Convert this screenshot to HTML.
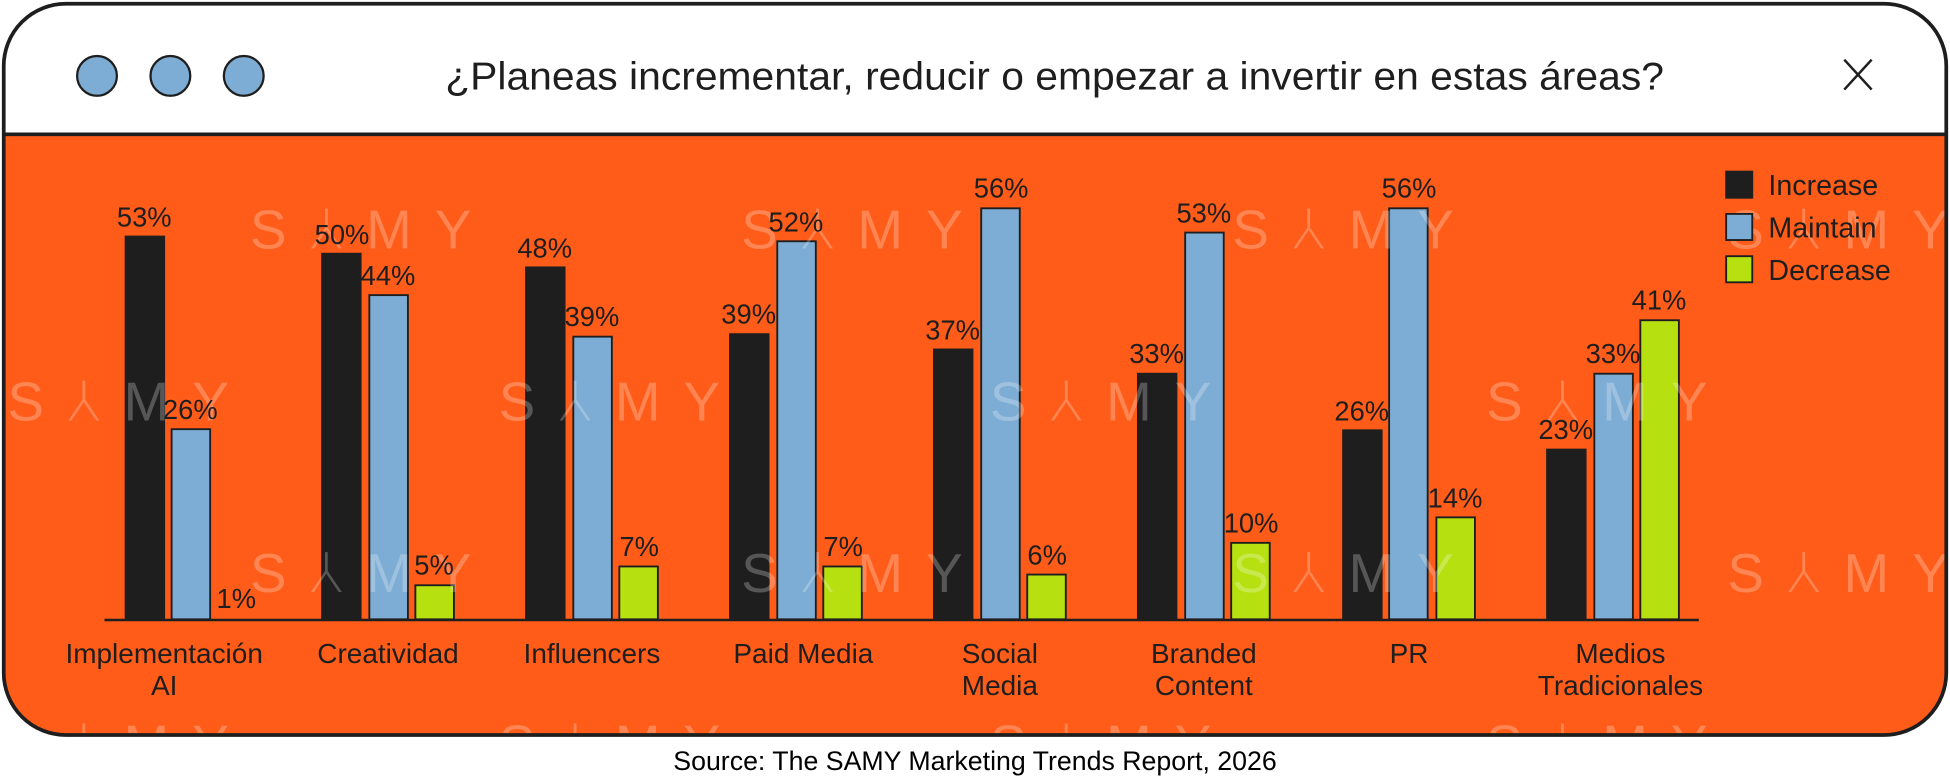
<!DOCTYPE html>
<html><head><meta charset="utf-8"><style>
html,body{margin:0;padding:0;background:#fff;}
svg{display:block;}
text{font-family:"Liberation Sans","DejaVu Sans",sans-serif;}
</style></head><body>
<svg width="1950" height="781" viewBox="0 0 1568 628" xmlns="http://www.w3.org/2000/svg">
<defs>
<clipPath id="fr"><rect x="3" y="3" width="1562" height="588" rx="50" ry="50"/></clipPath>
</defs>
<rect x="0" y="0" width="1568" height="628" fill="#fff"/>
<g clip-path="url(#fr)">
<rect x="0" y="0" width="1568" height="108" fill="#fff"/>
<rect x="0" y="108" width="1568" height="500" fill="#ff5c19"/>
</g>
<line x1="3" y1="108" x2="1565" y2="108" stroke="#1e1e1e" stroke-width="3"/>
<g fill="#7dadd4" stroke="#1e1e1e" stroke-width="1.8">
<circle cx="78" cy="61" r="16"/><circle cx="137" cy="61" r="16"/><circle cx="196" cy="61" r="16"/>
</g>
<text x="848" y="72" font-size="31" text-anchor="middle" fill="#1e1e1e" textLength="980" lengthAdjust="spacingAndGlyphs">¿Planeas incrementar, reducir o empezar a invertir en estas áreas?</text>
<g stroke="#1e1e1e" stroke-width="2"><line x1="1483" y1="48" x2="1505" y2="72"/><line x1="1505" y1="48" x2="1483" y2="72"/></g>

<g stroke="#1e1e1e" stroke-width="1.5">
<rect x="101" y="190.2" width="31" height="307.8" fill="#1e1e1e"/>
<rect x="138" y="345.1" width="31" height="152.9" fill="#7dadd4"/>
<rect x="259" y="204" width="31" height="294" fill="#1e1e1e"/>
<rect x="297" y="237.3" width="31" height="260.7" fill="#7dadd4"/>
<rect x="334" y="470.6" width="31" height="27.4" fill="#b7e010"/>
<rect x="423" y="215" width="31" height="283" fill="#1e1e1e"/>
<rect x="461" y="270.7" width="31" height="227.3" fill="#7dadd4"/>
<rect x="498" y="455.5" width="31" height="42.5" fill="#b7e010"/>
<rect x="587" y="268.7" width="31" height="229.3" fill="#1e1e1e"/>
<rect x="625" y="194" width="31" height="304" fill="#7dadd4"/>
<rect x="662" y="455.5" width="31" height="42.5" fill="#b7e010"/>
<rect x="751" y="281" width="31" height="217" fill="#1e1e1e"/>
<rect x="789" y="167.5" width="31" height="330.5" fill="#7dadd4"/>
<rect x="826" y="462" width="31" height="36" fill="#b7e010"/>
<rect x="915" y="300.5" width="31" height="197.5" fill="#1e1e1e"/>
<rect x="953" y="187" width="31" height="311" fill="#7dadd4"/>
<rect x="990" y="436.5" width="31" height="61.5" fill="#b7e010"/>
<rect x="1080" y="346" width="31" height="152" fill="#1e1e1e"/>
<rect x="1117" y="167.5" width="31" height="330.5" fill="#7dadd4"/>
<rect x="1155" y="416" width="31" height="82" fill="#b7e010"/>
<rect x="1244" y="361.5" width="31" height="136.5" fill="#1e1e1e"/>
<rect x="1282" y="300.5" width="31" height="197.5" fill="#7dadd4"/>
<rect x="1319" y="257.5" width="31" height="240.5" fill="#b7e010"/>
</g>
<line x1="84" y1="498.5" x2="1366" y2="498.5" stroke="#1e1e1e" stroke-width="2"/>

<g fill="#ffffff" fill-opacity="0.25" font-size="44" font-family="'DejaVu Sans','Liberation Sans',sans-serif" font-weight="200">
<text x="201" y="200" textLength="178" lengthAdjust="spacing">S⅄MY</text>
<text x="596" y="200" textLength="178" lengthAdjust="spacing">S⅄MY</text>
<text x="991" y="200" textLength="178" lengthAdjust="spacing">S⅄MY</text>
<text x="1389" y="200" textLength="178" lengthAdjust="spacing">S⅄MY</text>
<text x="6" y="338" textLength="178" lengthAdjust="spacing">S⅄MY</text>
<text x="401" y="338" textLength="178" lengthAdjust="spacing">S⅄MY</text>
<text x="796" y="338" textLength="178" lengthAdjust="spacing">S⅄MY</text>
<text x="1195" y="338" textLength="178" lengthAdjust="spacing">S⅄MY</text>
<text x="201" y="476" textLength="178" lengthAdjust="spacing">S⅄MY</text>
<text x="596" y="476" textLength="178" lengthAdjust="spacing">S⅄MY</text>
<text x="991" y="476" textLength="178" lengthAdjust="spacing">S⅄MY</text>
<text x="1389" y="476" textLength="178" lengthAdjust="spacing">S⅄MY</text>
<g clip-path="url(#fr)">
<text x="6" y="614" textLength="178" lengthAdjust="spacing">S⅄MY</text>
<text x="401" y="614" textLength="178" lengthAdjust="spacing">S⅄MY</text>
<text x="796" y="614" textLength="178" lengthAdjust="spacing">S⅄MY</text>
<text x="1195" y="614" textLength="178" lengthAdjust="spacing">S⅄MY</text>
</g>
</g>
<rect x="3" y="3" width="1562" height="588" rx="50" ry="50" fill="none" stroke="#1e1e1e" stroke-width="3"/>

<g font-size="22" fill="#1e1e1e" text-anchor="middle">
<text x="116" y="182">53%</text><text x="153" y="337">26%</text><text x="190" y="489">1%</text>
<text x="275" y="196">50%</text><text x="312" y="229">44%</text><text x="349" y="462">5%</text>
<text x="438" y="207">48%</text><text x="476" y="262">39%</text><text x="514" y="447">7%</text>
<text x="602" y="260">39%</text><text x="640" y="186">52%</text><text x="678" y="447">7%</text>
<text x="766" y="273">37%</text><text x="805" y="159">56%</text><text x="842" y="454">6%</text>
<text x="930" y="292">33%</text><text x="968" y="179">53%</text><text x="1006" y="428">10%</text>
<text x="1095" y="338">26%</text><text x="1133" y="159">56%</text><text x="1170" y="408">14%</text>
<text x="1259" y="353">23%</text><text x="1297" y="292">33%</text><text x="1334" y="249">41%</text>
</g>

<g font-size="22.5" fill="#1e1e1e" text-anchor="middle">
<text x="132" y="533">Implementación</text><text x="132" y="559">AI</text>
<text x="312" y="533">Creatividad</text>
<text x="476" y="533">Influencers</text>
<text x="646" y="533">Paid Media</text>
<text x="804" y="533">Social</text><text x="804" y="559">Media</text>
<text x="968" y="533">Branded</text><text x="968" y="559">Content</text>
<text x="1133" y="533">PR</text>
<text x="1303" y="533">Medios</text><text x="1303" y="559">Tradicionales</text>
</g>

<rect x="1388" y="138" width="21" height="21" fill="#1e1e1e" stroke="#1e1e1e" stroke-width="1.5"/>
<rect x="1388" y="172" width="21" height="21" fill="#7dadd4" stroke="#1e1e1e" stroke-width="1.5"/>
<rect x="1388" y="206" width="21" height="21" fill="#b7e010" stroke="#1e1e1e" stroke-width="1.5"/>
<g font-size="23" fill="#1e1e1e">
<text x="1422" y="157">Increase</text>
<text x="1422" y="191">Maintain</text>
<text x="1422" y="225">Decrease</text>
</g>

<text x="784" y="619" font-size="21.5" text-anchor="middle" fill="#000">Source: The SAMY Marketing Trends Report, 2026</text>
</svg>
</body></html>
